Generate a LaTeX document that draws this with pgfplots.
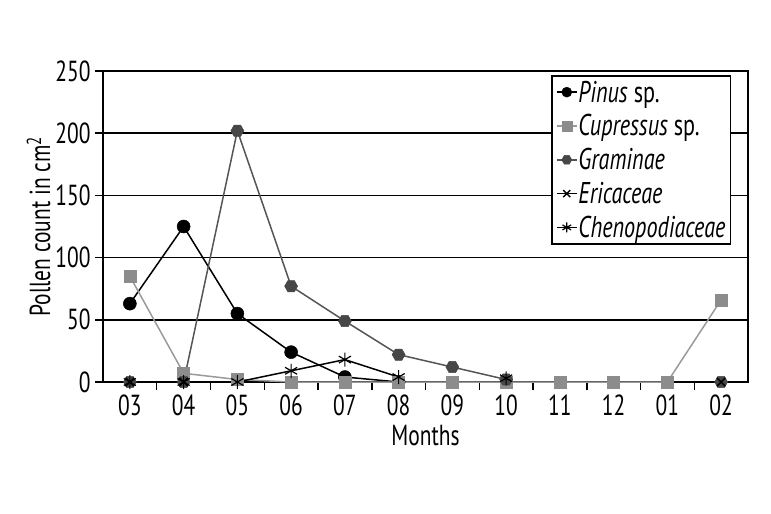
\documentclass[border=0pt]{standalone}
\usepackage{pgfplots}
\pgfplotsset{compat=1.18}
\usepackage{fontspec}
\setmainfont{PT Sans}[FakeStretch=0.74]
\pgfdeclareplotmark{hexagon}{%
  \pgfpathmoveto{\pgfqpointpolar{0}{\pgfplotmarksize}}%
  \pgfpathlineto{\pgfqpointpolar{60}{\pgfplotmarksize}}%
  \pgfpathlineto{\pgfqpointpolar{120}{\pgfplotmarksize}}%
  \pgfpathlineto{\pgfqpointpolar{180}{\pgfplotmarksize}}%
  \pgfpathlineto{\pgfqpointpolar{240}{\pgfplotmarksize}}%
  \pgfpathlineto{\pgfqpointpolar{300}{\pgfplotmarksize}}%
  \pgfpathclose\pgfusepathqfillstroke}
\definecolor{cupr}{HTML}{8C8C8C}
\definecolor{cuprline}{HTML}{9A9A9A}
\definecolor{gram}{HTML}{474747}
\definecolor{gramline}{HTML}{555555}
\begin{document}
\begin{tikzpicture}
\useasboundingbox (-103pt,-132pt) rectangle (668pt,382pt);
\begin{axis}[
  at={(0,0)}, anchor=south west,
  scale only axis, width=645pt, height=311pt,
  xmin=-0.5, xmax=11.5, ymin=0, ymax=250,
  xtick={0,...,11},
  xticklabels={03,04,05,06,07,08,09,10,11,12,01,02},
  minor xtick={0.5,1.5,...,10.5},
  major x tick style={draw=none},
  ytick={0,50,...,250},
  tick align=outside,
  xtick pos=bottom, ytick pos=left,
  major tick length=8pt, minor tick length=8pt,
  tick style={black, line width=1.5pt},
  ymajorgrids, grid style={black, line width=1.5pt},
  axis line style={black, line width=1.5pt},
  /pgf/number format/assume math mode=true,
  ticklabel style={font=\fontsize{29}{32}\selectfont},
  xticklabel style={yshift=-1pt},
  yticklabel style={xshift=-1pt},
  label style={font=\fontsize{29}{32}\selectfont},
  xlabel={Months},
  ylabel={Pollen count in cm\textsuperscript{2}},
  xlabel style={yshift=-3pt},
  ylabel style={yshift=-2pt},
  unbounded coords=jump,
  legend style={at={(0.974,0.987)}, anchor=north east, draw=black, line width=1.5pt,
    font=\fontsize{30}{33}\selectfont, row sep=11pt, inner xsep=4pt, inner ysep=5pt,
    nodes={inner xsep=1pt, inner ysep=0pt}},
  legend cell align=left,
  legend image code/.code={
    \draw[mark repeat=2,mark phase=2,#1, mark size=5pt] plot coordinates {(0cm,0cm) (0.35cm,0cm) (0.7cm,0cm)};},
]
\addplot[black, line width=1.5pt, mark=*, mark size=6.5pt, mark options={fill=black, line width=0.5pt}]
  coordinates {(0,63) (1,125) (2,55) (3,24) (4,4) (5,0)};
\addlegendentry{\textit{Pinus} sp.}
\addplot[cuprline, line width=1.5pt, mark=square*, mark size=6pt, mark options={fill=cupr, draw=cupr, line width=0.5pt}]
  coordinates {(0,85) (1,7) (2,2) (3,0) (4,0) (5,0) (6,0) (7,0) (8,0) (9,0) (10,0) (11,66)};
\addlegendentry{\textit{Cupressus} sp.}
\addplot[gramline, line width=1.5pt, mark=hexagon, mark size=6.5pt, mark options={fill=gram, draw=gram, line width=0.5pt}]
  coordinates {(0,0) (1,0) (2,202) (3,77) (4,49) (5,22) (6,12) (7,2) (8,nan) (11,0)};
\addlegendentry{\textit{Graminae}}
\addplot[black, line width=1.5pt, mark=x, mark size=6pt, mark options={line width=1.5pt}]
  coordinates {(0,0) (1,0) (2,nan) (11,0)};
\addlegendentry{\textit{Ericaceae}}
\addplot[black, line width=1.5pt, mark=asterisk, mark size=7pt, mark options={line width=1.2pt}]
  coordinates {(0,0) (1,0) (2,0) (3,9) (4,18) (5,4) (6,nan) (7,3)};
\addlegendentry{\textit{Chenopodiaceae}}
\end{axis}
\end{tikzpicture}
\end{document}
